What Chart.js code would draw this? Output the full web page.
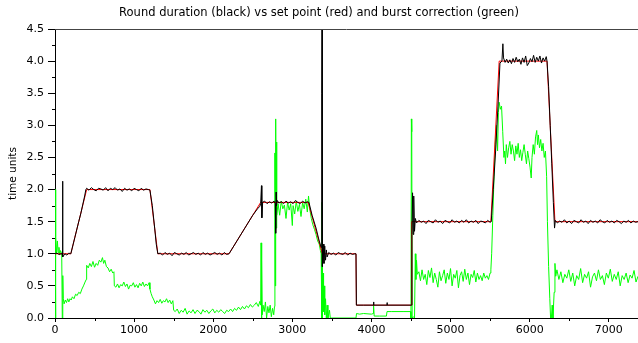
<!DOCTYPE html>
<html>
<head>
<meta charset="utf-8">
<title>Round duration vs set point and burst correction</title>
<script src="https://cdn.jsdelivr.net/npm/chart.js@4/dist/chart.umd.min.js"></script>
<style>
    html, body { margin: 0; padding: 0; background: #fff; }
    #roundChart { display: block; }
</style>
</head>
<body>
<canvas id="roundChart" width="638" height="343"></canvas>
<script>
// Round duration (black)
const roundX = [0, 25, 50, 75, 90, 95, 100, 125, 150, 175, 200,
    250, 300, 325, 350, 375, 390,
    400, 430, 460, 490, 520, 550, 580, 610, 640, 670, 700, 730, 760, 790, 820, 850, 880, 910, 940, 970,
    1000, 1030, 1060, 1090, 1120, 1150, 1180, 1200,
    1230, 1260, 1280, 1300,
    1330, 1360, 1390, 1420, 1450, 1480, 1510, 1540, 1570, 1600, 1630, 1660, 1690, 1720, 1750, 1780,
    1810, 1840, 1870, 1900, 1930, 1960, 1990, 2020, 2050, 2080, 2110, 2140, 2170, 2200,
    2300, 2400, 2500, 2560, 2590, 2600, 2610, 2615, 2625,
    2650, 2680, 2710, 2740, 2770, 2785, 2790, 2795, 2800, 2810, 2830, 2860, 2890, 2920, 2950, 2980,
    3010, 3040, 3070, 3100, 3130, 3160, 3190, 3210,
    3250, 3300, 3340, 3365, 3372, 3376, 3380, 3390, 3400, 3410, 3420, 3430, 3440,
    3460, 3490, 3520, 3550, 3580, 3610, 3640, 3670, 3700, 3730, 3760, 3790, 3805,
    3810, 3900, 4027, 4028, 4030, 4197, 4198, 4200, 4500, 4505,
    4512, 4520, 4528, 4535, 4545, 4555,
    4570, 4600, 4630, 4660, 4690, 4720, 4750, 4780, 4810, 4840, 4870, 4900, 4930, 4960, 4990,
    5020, 5050, 5080, 5110, 5140, 5170, 5200, 5230, 5260, 5290, 5320, 5350, 5380, 5410, 5440, 5470, 5500, 5515,
    5540, 5570, 5600, 5625, 5650, 5662,
    5670, 5690, 5710, 5730, 5750, 5770, 5790, 5810, 5830, 5850, 5870, 5890, 5910, 5930, 5950, 5970, 5990,
    6010, 6030, 6050, 6070, 6090, 6110, 6130, 6150, 6170, 6190, 6210, 6220,
    6240, 6260, 6280, 6300, 6315,
    6325, 6350, 6380, 6410, 6440, 6470, 6500, 6530, 6560, 6590, 6620, 6650, 6680, 6710, 6740, 6770,
    6800, 6830, 6860, 6890, 6920, 6950, 6980, 7010, 7040, 7070, 7100, 7130, 7160, 7190, 7220, 7250,
    7280, 7310, 7340, 7370];
const roundY = [1.00, 1.01, 0.99, 1.00, 1.00, 2.13, 0.95, 1.00, 0.98, 1.01, 1.00,
    1.25, 1.50, 1.62, 1.76, 1.90, 2.00,
    2.02, 1.99, 2.03, 2.00, 1.98, 2.02, 2.01, 1.99, 2.03, 1.98, 2.02, 2.00, 2.03, 1.99, 2.01, 1.97, 2.02, 1.99, 2.01, 1.98,
    2.02, 2.00, 1.98, 2.02, 1.99, 2.01, 2.00, 1.99,
    1.75, 1.40, 1.15, 1.00,
    1.01, 0.98, 1.02, 0.99, 1.01, 0.97, 1.02, 1.00, 0.98, 1.01, 0.99, 1.02, 0.98, 1.00, 1.02, 0.99,
    1.01, 0.98, 1.02, 0.99, 1.01, 0.98, 1.00, 1.02, 0.99, 1.01, 0.98, 1.02, 0.99, 1.00,
    1.20, 1.40, 1.60, 1.70, 1.74, 1.78, 2.06, 1.56, 1.80,
    1.82, 1.78, 1.81, 1.79, 1.82, 1.78, 1.32, 1.96, 1.75, 1.83, 1.79, 1.81, 1.78, 1.82, 1.79, 1.81,
    1.78, 1.83, 1.80, 1.78, 1.82, 1.79, 1.81, 1.80,
    1.60, 1.40, 1.20, 1.10, 3.50, 4.60, 0.80, 1.15, 0.85, 1.12, 0.90, 1.06, 0.95,
    1.02, 0.99, 1.01, 0.98, 1.02, 1.00, 0.99, 1.02, 0.98, 1.01, 0.99, 1.00, 1.00,
    0.20, 0.20, 0.20, 0.25, 0.20, 0.20, 0.24, 0.20, 0.20, 0.20,
    1.30, 1.95, 1.30, 1.90, 1.35, 1.55,
    1.48, 1.52, 1.49, 1.51, 1.47, 1.52, 1.50, 1.48, 1.53, 1.49, 1.51, 1.47, 1.52, 1.50, 1.48,
    1.53, 1.49, 1.51, 1.48, 1.52, 1.49, 1.53, 1.48, 1.51, 1.49, 1.52, 1.47, 1.51, 1.50, 1.48, 1.52, 1.49, 1.50,
    2.00, 2.60, 3.30, 3.97, 4.00, 4.27,
    4.05, 3.98, 4.03, 3.97, 4.02, 3.96, 4.04, 3.98, 4.06, 3.99, 4.03, 3.95, 4.05, 3.98, 4.08, 3.93, 3.97,
    4.04, 3.99, 4.09, 3.98, 4.06, 4.00, 4.08, 3.97, 4.05, 4.00, 4.07, 4.00,
    3.60, 3.00, 2.40, 1.80, 1.40,
    1.52, 1.48, 1.51, 1.49, 1.53, 1.48, 1.51, 1.47, 1.52, 1.50, 1.48, 1.53, 1.49, 1.51, 1.47, 1.52,
    1.49, 1.51, 1.48, 1.53, 1.50, 1.48, 1.52, 1.49, 1.51, 1.48, 1.52, 1.50, 1.47, 1.51, 1.49, 1.52,
    1.48, 1.51, 1.49, 1.50];

// Set point (red)
const setX = [0, 200, 400, 1200, 1300, 2200, 2600, 3200, 3380, 3805, 3810, 4505, 4510, 5510, 5615, 6220, 6320, 7370];
const setY = [1.0, 1.0, 2.0, 2.0, 1.0, 1.0, 1.8, 1.8, 1.0, 1.0, 0.2, 0.2, 1.5, 1.5, 4.0, 4.0, 1.5, 1.5];

// Burst correction (green)
const burstX = [0, 5, 12, 20, 30, 40, 50, 60, 70, 85, 92, 97, 100, 105, 115, 130, 145, 160, 175, 190,
    205, 220, 240, 260, 280, 300, 320, 340, 360, 380, 395, 400, 420, 440, 460, 480, 500, 520, 540, 560,
    580, 600, 615, 630, 650, 670, 690, 710, 730, 745, 750, 770, 790, 810, 830, 850, 870, 890, 910, 930,
    950, 970, 990, 1010, 1030, 1050, 1070, 1090, 1110, 1130, 1150, 1170, 1190, 1200, 1215, 1230, 1250,
    1270, 1290, 1310, 1330, 1350, 1370, 1390, 1410, 1430, 1450, 1470, 1490, 1500, 1520,
    1545, 1570, 1595, 1620, 1645, 1670, 1695, 1720, 1745, 1770, 1795, 1820, 1845, 1870, 1895, 1920,
    1945, 1970, 1995, 2020, 2045, 2070, 2095, 2120, 2145, 2170, 2195,
    2220, 2245, 2270, 2295, 2320, 2345, 2370, 2395, 2420, 2445, 2470, 2495, 2520, 2545, 2570, 2590, 2600,
    2605, 2610, 2615, 2620, 2630, 2645, 2660, 2675, 2690, 2705, 2720, 2735, 2750, 2765, 2775,
    2780, 2785, 2790, 2795, 2800, 2805, 2820, 2840, 2860, 2880, 2900, 2920, 2940, 2960, 2980,
    3000, 3010, 3030, 3050, 3070, 3090, 3110, 3130, 3150, 3170, 3190, 3205, 3220, 3240, 3260, 3280,
    3300, 3320, 3340, 3355, 3365, 3372, 3376, 3380, 3388, 3395, 3402, 3410, 3420, 3430, 3440, 3450,
    3470, 3480, 3500, 3805,
    3812, 3850, 3900, 4000, 4025, 4027, 4035, 4100, 4190, 4197, 4250, 4400, 4495,
    4500, 4505, 4510, 4515, 4530, 4545, 4555, 4562, 4570, 4580,
    4600, 4620, 4640, 4660, 4680, 4700, 4720, 4740, 4760, 4780, 4800, 4820, 4840, 4860, 4880, 4900,
    4920, 4940, 4960, 4980, 5000, 5020, 5040, 5060, 5080, 5100, 5120, 5140, 5160, 5180, 5200, 5220,
    5240, 5260, 5280, 5300, 5320, 5340, 5360, 5380, 5400, 5420, 5440, 5460, 5480, 5500, 5510,
    5520, 5535, 5550, 5565, 5580, 5595, 5605, 5615, 5630, 5645, 5660, 5675, 5685, 5695, 5705, 5720,
    5735, 5750, 5765, 5780, 5795, 5810, 5825, 5840, 5855, 5870, 5885, 5900, 5915, 5930, 5945, 5960,
    5975, 5990, 6005, 6020, 6030, 6045, 6060, 6075, 6090, 6100, 6110, 6125, 6140, 6155, 6170, 6185,
    6200, 6215, 6225, 6240, 6255, 6265, 6275, 6285, 6295, 6310, 6320, 6330, 6345,
    6370, 6395, 6420, 6445, 6470, 6495, 6520, 6545, 6570, 6595, 6620, 6645, 6670, 6695, 6720, 6745,
    6770, 6795, 6820, 6845, 6870, 6895, 6920, 6945, 6970, 6995, 7020, 7045, 7070, 7095, 7120, 7145,
    7170, 7195, 7220, 7245, 7270, 7295, 7320, 7345, 7370];
const burstY = [2.00, 0.00, 1.25, 1.00, 1.20, 1.02, 1.10, 0.98, 1.05, 1.00, 0.00, 0.00, 0.66, 0.30, 0.22, 0.28, 0.24, 0.30, 0.25, 0.30,
    0.28, 0.33, 0.30, 0.37, 0.35, 0.40, 0.38, 0.45, 0.50, 0.56, 0.60, 0.82, 0.78, 0.85, 0.80, 0.88, 0.79, 0.85, 0.82, 0.90,
    0.87, 0.94, 0.85, 0.90, 0.80, 0.78, 0.72, 0.76, 0.70, 0.72, 0.50, 0.48, 0.53, 0.47, 0.52, 0.50, 0.56, 0.49, 0.53, 0.45,
    0.51, 0.50, 0.55, 0.48, 0.52, 0.47, 0.54, 0.50, 0.56, 0.49, 0.53, 0.50, 0.55, 0.45, 0.38, 0.33, 0.28,
    0.22, 0.27, 0.24, 0.29, 0.23, 0.27, 0.25, 0.30, 0.24, 0.28, 0.22, 0.27, 0.12, 0.10,
    0.14, 0.07, 0.12, 0.09, 0.15, 0.06, 0.11, 0.08, 0.13, 0.07, 0.12, 0.10, 0.06, 0.13, 0.09, 0.12,
    0.07, 0.11, 0.14, 0.08, 0.12, 0.09, 0.13, 0.10, 0.07, 0.12, 0.10,
    0.14, 0.10, 0.15, 0.12, 0.17, 0.13, 0.18, 0.14, 0.19, 0.16, 0.21, 0.17, 0.20, 0.24, 0.18, 0.26, 0.20,
    1.17, 0.00, 0.90, 0.05, 0.20, 0.10, 0.25, 0.00, 0.18, 0.08, 0.20, 0.02, 0.15, 0.05, 0.18,
    2.57, 0.50, 3.10, 1.40, 2.74, 1.60, 1.78, 1.60, 1.82, 1.70, 1.76, 1.55, 1.80, 1.68, 1.78,
    1.44, 1.75, 1.62, 1.82, 1.66, 1.77, 1.58, 1.80, 1.70, 1.85, 1.65, 1.90, 1.70, 1.55, 1.45, 1.38,
    1.30, 1.20, 1.15, 1.05, 1.00, 0.00, 1.80, 0.00, 0.70, 0.10, 0.50, 0.05, 0.30, 0.00, 0.20, 0.00,
    0.12, 0.00, 0.00, 0.00,
    0.07, 0.06, 0.07, 0.06, 0.07, 0.20, 0.03, 0.03, 0.03, 0.10, 0.10, 0.10, 0.10,
    0.00, 3.10, 2.90, 0.00, 0.02, 0.00, 1.00, 0.60, 0.90, 0.68,
    0.72, 0.58, 0.75, 0.60, 0.68, 0.52, 0.74, 0.63, 0.78, 0.55, 0.70, 0.60, 0.48, 0.72, 0.58, 0.66,
    0.75, 0.54, 0.70, 0.60, 0.77, 0.50, 0.68, 0.62, 0.74, 0.47, 0.66, 0.72, 0.57, 0.76, 0.60, 0.70,
    0.52, 0.68, 0.63, 0.74, 0.56, 0.70, 0.60, 0.66, 0.58, 0.70, 0.62, 0.66, 0.60, 0.70, 0.75,
    1.00, 1.60, 2.20, 2.70, 3.00, 2.60, 3.20, 3.36, 3.25, 3.30, 2.90, 2.50, 2.60, 2.40, 2.70, 2.50,
    2.65, 2.75, 2.55, 2.70, 2.60, 2.45, 2.68, 2.55, 2.72, 2.50, 2.62, 2.45, 2.58, 2.70, 2.55, 2.40,
    2.60, 2.48, 2.35, 2.18, 2.50, 2.70, 2.55, 2.82, 2.92, 2.70, 2.85, 2.65, 2.78, 2.60, 2.72, 2.50,
    2.60, 2.20, 1.50, 0.80, 0.30, 0.00, 0.00, 0.20, 0.00, 0.40, 0.85, 0.65, 0.75,
    0.60, 0.72, 0.55, 0.68, 0.62, 0.75, 0.57, 0.70, 0.50, 0.66, 0.60, 0.77, 0.55, 0.68, 0.62, 0.72,
    0.48, 0.64, 0.70, 0.58, 0.75, 0.60, 0.66, 0.52, 0.70, 0.62, 0.76, 0.57, 0.68, 0.60, 0.72, 0.50,
    0.66, 0.60, 0.70, 0.55, 0.67, 0.62, 0.74, 0.56, 0.65];

// Axis ticks
const xTicks = [0, 1000, 2000, 3000, 4000, 5000, 6000, 7000];
const yTicks = [0, 0.5, 1.0, 1.5, 2.0, 2.5, 3.0, 3.5, 4.0, 4.5];
const X_MAX = 7370;

const FONT = 'DejaVu Sans, Verdana, sans-serif';

/**
 * Pair up x and y arrays for the line datasets
 */
function toPoints(xs, ys) {
    return xs.map((x, i) => ({ x: x, y: ys[i] }));
}

/**
 * Minor tick marks + top frame line (Chart.js has no minor ticks)
 */
const frameAndMinorTicks = {
    id: 'frameAndMinorTicks',
    afterDraw(chart) {
        const ctx = chart.ctx;
        const area = chart.chartArea;
        const xs = chart.scales.x;
        const ys = chart.scales.y;
        ctx.save();
        ctx.lineWidth = 1;

        // top frame line
        ctx.strokeStyle = '#444';
        ctx.beginPath();
        ctx.moveTo(area.left, Math.round(area.top) + 0.5);
        ctx.lineTo(area.right, Math.round(area.top) + 0.5);
        ctx.stroke();

        ctx.strokeStyle = '#000';
        ctx.beginPath();
        for (let i = 0; i < yTicks.length - 1; i++) {
            const py = Math.round(ys.getPixelForValue((yTicks[i] + yTicks[i + 1]) / 2)) + 0.5;
            ctx.moveTo(area.left - 3, py);
            ctx.lineTo(area.left, py);
        }
        for (let i = 0; i < xTicks.length; i++) {
            const v = xTicks[i] + 500;
            if (v > X_MAX) continue;
            const px = Math.round(xs.getPixelForValue(v)) + 0.5;
            ctx.moveTo(px, area.bottom);
            ctx.lineTo(px, area.bottom + 3);
        }
        ctx.stroke();
        ctx.restore();
    }
};

function createRoundChart() {
    const ctx = document.getElementById('roundChart');

    new Chart(ctx, {
        type: 'line',
        data: {
            datasets: [
                {
                    label: 'Round duration',
                    data: toPoints(roundX, roundY),
                    borderColor: '#000000',
                    borderWidth: 1,
                    order: 1
                },
                {
                    label: 'Set point',
                    data: toPoints(setX, setY),
                    borderColor: '#ff0000',
                    borderWidth: 1,
                    order: 2
                },
                {
                    label: 'Burst correction',
                    data: toPoints(burstX, burstY),
                    borderColor: '#00ff00',
                    borderWidth: 1,
                    order: 3
                }
            ]
        },
        options: {
            responsive: false,
            animation: false,
            events: [],
            elements: {
                point: { radius: 0 },
                line: { tension: 0 }
            },
            layout: {
                padding: { left: 0, right: 0, top: 0, bottom: 0 }
            },
            plugins: {
                legend: { display: false },
                tooltip: { enabled: false },
                title: {
                    display: true,
                    text: 'Round duration (black) vs set point (red) and burst correction (green)',
                    color: '#000',
                    font: { family: FONT, size: 11.5, weight: 'normal' },
                    padding: { top: 6, bottom: 9.2 }
                }
            },
            scales: {
                x: {
                    type: 'linear',
                    min: 0,
                    max: X_MAX,
                    z: 1,
                    afterFit: (scale) => { scale.height = 25; },
                    afterBuildTicks: (scale) => { scale.ticks = xTicks.map(v => ({ value: v })); },
                    ticks: {
                        color: '#000',
                        font: { family: FONT, size: 11 },
                        padding: 2,
                        maxRotation: 0,
                        autoSkip: false,
                        callback: (v) => String(v)
                    },
                    grid: {
                        drawOnChartArea: false,
                        drawTicks: true,
                        tickLength: 4,
                        color: '#000'
                    },
                    border: { color: '#000', width: 1 }
                },
                y: {
                    type: 'linear',
                    min: 0,
                    max: 4.5,
                    z: 1,
                    afterFit: (scale) => { scale.width = 55; },
                    afterBuildTicks: (scale) => { scale.ticks = yTicks.map(v => ({ value: v })); },
                    title: {
                        display: true,
                        text: 'time units',
                        color: '#000',
                        font: { family: FONT, size: 10.5 },
                        padding: { top: 7, bottom: 0 }
                    },
                    ticks: {
                        color: '#000',
                        font: { family: FONT, size: 11 },
                        padding: 4,
                        autoSkip: false,
                        callback: (v) => Number(v).toFixed(1)
                    },
                    grid: {
                        drawOnChartArea: false,
                        drawTicks: true,
                        tickLength: 7,
                        color: '#000'
                    },
                    border: { color: '#000', width: 1 }
                }
            }
        },
        plugins: [frameAndMinorTicks]
    });
}

createRoundChart();
</script>
</body>
</html>
